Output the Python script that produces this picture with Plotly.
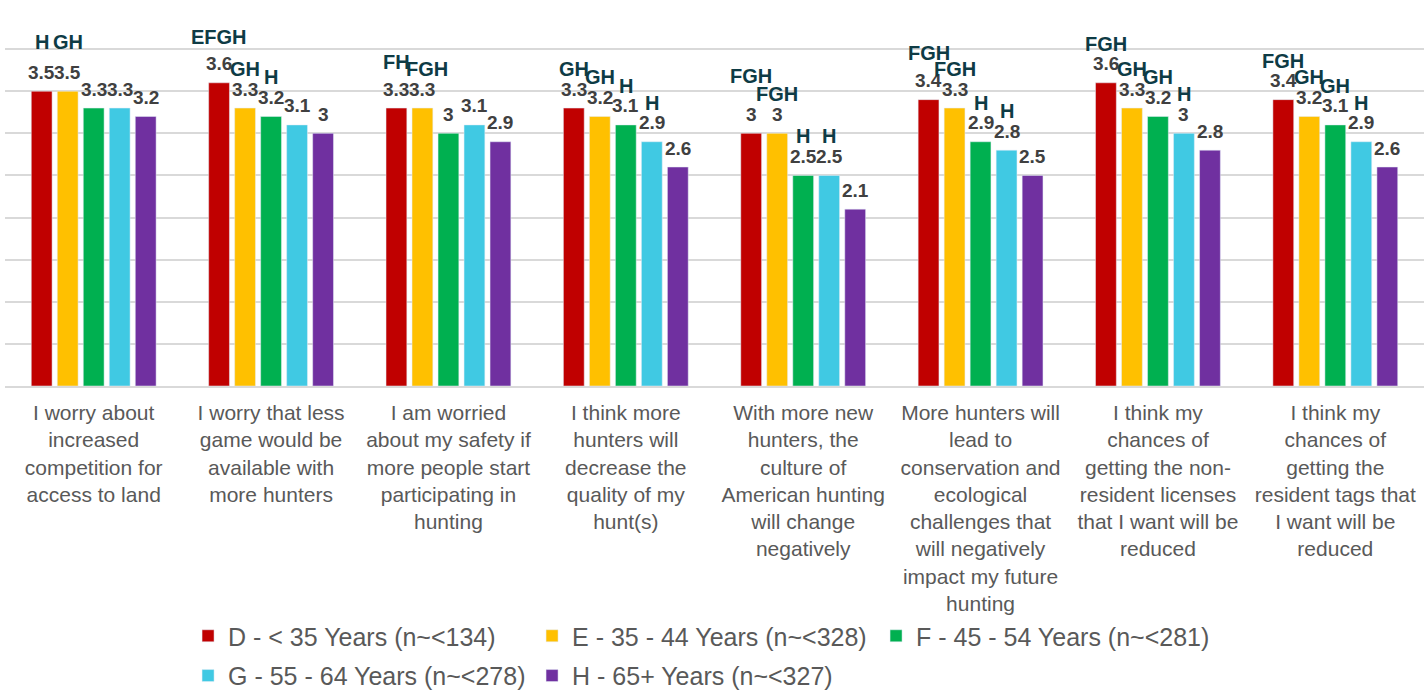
import plotly.graph_objects as go

# Survey statements (x categories) and their wrapped tick labels
categories = [
    "I worry about increased competition for access to land",
    "I worry that less game would be available with more hunters",
    "I am worried about my safety if more people start participating in hunting",
    "I think more hunters will decrease the quality of my hunt(s)",
    "With more new hunters, the culture of American hunting will change negatively",
    "More hunters will lead to conservation and ecological challenges that will negatively impact my future hunting",
    "I think my chances of getting the non-resident licenses that I want will be reduced",
    "I think my chances of getting the resident tags that I want will be reduced",
]
tick_labels = [
    "I worry about<br>increased<br>competition for<br>access to land",
    "I worry that less<br>game would be<br>available with<br>more hunters",
    "I am worried<br>about my safety if<br>more people start<br>participating in<br>hunting",
    "I think more<br>hunters will<br>decrease the<br>quality of my<br>hunt(s)",
    "With more new<br>hunters, the<br>culture of<br>American hunting<br>will change<br>negatively",
    "More hunters will<br>lead to<br>conservation and<br>ecological<br>challenges that<br>will negatively<br>impact my future<br>hunting",
    "I think my<br>chances of<br>getting the non-<br>resident licenses<br>that I want will be<br>reduced",
    "I think my<br>chances of<br>getting the<br>resident tags that<br>I want will be<br>reduced",
]

series_names = [
    "D - < 35 Years (n~<134)",
    "E - 35 - 44 Years (n~<328)",
    "F - 45 - 54 Years (n~<281)",
    "G - 55 - 64 Years (n~<278)",
    "H - 65+ Years (n~<327)",
]

# Mean scores per age group
d_values = [3.5, 3.6, 3.3, 3.3, 3.0, 3.4, 3.6, 3.4]
e_values = [3.5, 3.3, 3.3, 3.2, 3.0, 3.3, 3.3, 3.2]
f_values = [3.3, 3.2, 3.0, 3.1, 2.5, 2.9, 3.2, 3.1]
g_values = [3.3, 3.1, 3.1, 2.9, 2.5, 2.8, 3.0, 2.9]
h_values = [3.2, 3.0, 2.9, 2.6, 2.1, 2.5, 2.8, 2.6]

# Significance letters (groups this group differs from)
d_sig = ["H", "EFGH", "FH", "GH", "FGH", "FGH", "FGH", "FGH"]
e_sig = ["GH", "GH", "FGH", "GH", "FGH", "FGH", "GH", "GH"]
f_sig = ["", "H", "", "H", "H", "H", "GH", "GH"]
g_sig = ["", "", "", "H", "H", "H", "H", "H"]
h_sig = ["", "", "", "", "", "", "", ""]

values = [d_values, e_values, f_values, g_values, h_values]
sig_letters = [d_sig, e_sig, f_sig, g_sig, h_sig]
colors = ["#C00000", "#FFC000", "#00B050", "#40C9E3", "#7030A0"]

FONT = "Arial, 'Liberation Sans', sans-serif"
BARGAP = 0.267
N_SERIES = len(values)
slot = (1 - BARGAP) / N_SERIES

# nudges (dx, dy in px) for letter labels that sit apart from the default spot
letter_nudge = {(0, 0): (0, 10), (0, 1): (0, 10), (1, 0): (0, 7), (2, 0): (0, 7),
                (4, 0): (0, 18), (5, 0): (0, 8), (2, 1): (5, 0)}

fig = go.Figure()
for j, (name, vals, col) in enumerate(zip(series_names, values, colors)):
    fig.add_trace(go.Bar(
        x=categories, y=vals, name=name, marker_color=col,
        legend="legend" if j < 3 else "legend2",
        hoverinfo="skip",
    ))

annotations = []
for j in range(N_SERIES):
    for i, cat in enumerate(categories):
        xpos = i + (j - (N_SERIES - 1) / 2) * slot
        v = values[j][i]
        annotations.append(dict(
            x=xpos, y=v, xref="x", yref="y", text=f"{v:g}", showarrow=False,
            yanchor="middle", yshift=19,
            font=dict(family=FONT, size=19, color="#404040", weight="bold"),
        ))
        letters = sig_letters[j][i]
        if letters:
            dx, dy = letter_nudge.get((i, j), (0, 0))
            annotations.append(dict(
                x=xpos, y=v, xref="x", yref="y", text=letters, showarrow=False,
                yanchor="middle", xshift=dx, yshift=39 + dy,
                font=dict(family=FONT, size=20, color="#0E3B45", weight="bold"),
            ))

legend_common = dict(
    orientation="h", xanchor="left", yanchor="top", x=0.129,
    entrywidth=299, entrywidthmode="pixels",
    font=dict(family=FONT, size=25, color="#595959"),
    bgcolor="rgba(0,0,0,0)", tracegroupgap=0,
)

fig.update_layout(
    width=1424, height=693,
    margin=dict(l=5, r=0, t=7, b=307, autoexpand=False),
    paper_bgcolor="white", plot_bgcolor="white",
    barmode="group", bargap=BARGAP, bargroupgap=0.2,
    font=dict(family=FONT, color="#595959"),
    showlegend=True,
    legend=dict(legend_common, y=-0.599),
    legend2=dict(legend_common, y=-0.704),
    annotations=annotations,
    xaxis=dict(
        type="category", tickmode="array", tickvals=categories, ticktext=tick_labels,
        tickfont=dict(family=FONT, size=21, color="#595959"),
        ticklabelstandoff=7,
        showline=True, linecolor="#D9D9D9", linewidth=1.5,
        ticks="", showgrid=False,
    ),
    yaxis=dict(
        range=[0, 4.5], dtick=0.5, showticklabels=False,
        showgrid=True, gridcolor="#D9D9D9", gridwidth=1.5,
        zeroline=False, showline=False, ticks="",
    ),
)

fig.write_html("out.html")
